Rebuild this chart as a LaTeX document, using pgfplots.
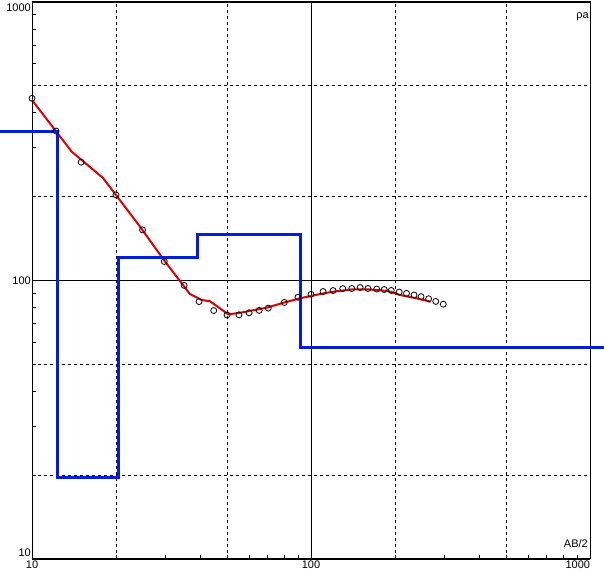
\documentclass[border=0pt]{standalone}
\usepackage{fontspec}
\setmainfont{Liberation Sans}
\usepackage{pgfplots}
\pgfplotsset{compat=1.18}
\definecolor{mblue}{RGB}{0,30,220}
\definecolor{mred}{RGB}{220,0,0}
\begin{document}
\begin{tikzpicture}
\begin{axis}[name=ax,
 xmode=log, ymode=log,
 width=558pt, height=557pt, scale only axis,
 xmin=10, xmax=1000, ymin=10, ymax=1000,
 clip=false,
 axis line style={black, line width=1pt},
 tick pos=left, tick align=inside,
 xtick={10,100,1000}, ytick={10,100,1000},
 xticklabels={10,100,\llap{1000}},
 yticklabels={\raisebox{2.5pt}[0pt][0pt]{10},100,\raisebox{-9.5pt}[0pt][0pt]{1000}},
 minor xtick={20,30,40,50,60,70,80,90,200,300,400,500,600,700,800,900},
 minor ytick={20,30,40,50,60,70,80,90,200,300,400,500,600,700,800,900},
 major tick length=0pt, minor tick length=4pt,
 tick style={black, line width=0.8pt},
 grid=major,
 major grid style={black, line width=0.8pt},
 extra x ticks={20,50,200,500}, extra y ticks={20,50,200,500},
 extra x tick labels={}, extra y tick labels={},
 extra x tick style={grid=major, major grid style={black, line width=0.8pt, dash pattern=on 3pt off 3pt}},
 extra y tick style={grid=major, major grid style={black, line width=0.8pt, dash pattern=on 3pt off 3pt}},
 ticklabel style={font=\fontsize{11}{13}\selectfont},
 xticklabel style={anchor=north, inner sep=2pt},
 yticklabel style={anchor=east, inner xsep=1pt, inner ysep=0pt},
]
% observed data (circles)
\addplot[only marks, mark=o, mark size=3pt, mark options={black, line width=0.8pt, fill=white}] coordinates {
(10,451) (12.2,344) (15.0,266) (20.0,203) (24.9,152) (29.8,117) (35.1,96) (39.7,84)
(44.8,78) (50.0,75.2) (55.2,75.3) (60.0,76.6) (65.2,78.1) (70.3,79.6) (80.2,83.4)
(89.8,87.1) (100,89.2) (110.5,91.3) (120,92.0) (130,93.5) (140,93.6) (150,94.4)
(160,93.6) (172,93.2) (183,92.8) (194,92.1) (207,90.9) (220,89.9) (234,88.7)
(248,87.5) (264,86.0) (280,84.1) (298,82.2)
};
% calculated curve
\addplot[mred, line width=2pt, line join=round] coordinates {
(10,444.6) (13.88,290) (17.97,233.4) (20,202.8) (24.4,156) (30.0,116.8) (34.8,96.3)
(36.8,89.4) (40.6,85.1) (43.5,84.2) (50.5,75.6) (55.7,76.6) (69.4,79.9) (79.6,83.2)
(91.3,86.3) (107.7,89.4) (120.2,91.2) (141.8,93.0) (158.3,93.0) (189.2,91.7)
(208.4,88.7) (239.3,86.3) (268.5,83.9)
};
% layered model
\addplot[mblue, line width=3pt, line join=miter] coordinates {
(7.68,342) (12.39,342) (12.39,19.6) (20.4,19.6) (20.4,121.2) (39.1,121.2)
(39.1,146.0) (91.5,146.0) (91.5,57.7) (1125,57.7)
};
\node[anchor=north east, inner sep=1pt, yshift=-9pt, font=\fontsize{11}{13}\selectfont] at (rel axis cs:1,1) {ρa};
\node[anchor=base east, inner sep=0pt, xshift=-2pt, yshift=11pt, font=\fontsize{11}{13}\selectfont] at (rel axis cs:1,0) {AB/2};
\end{axis}
\pgfresetboundingbox
\useasboundingbox ([xshift=-32pt,yshift=-23pt]ax.south west) rectangle ([xshift=14pt,yshift=2pt]ax.north east);
\end{tikzpicture}
\end{document}
